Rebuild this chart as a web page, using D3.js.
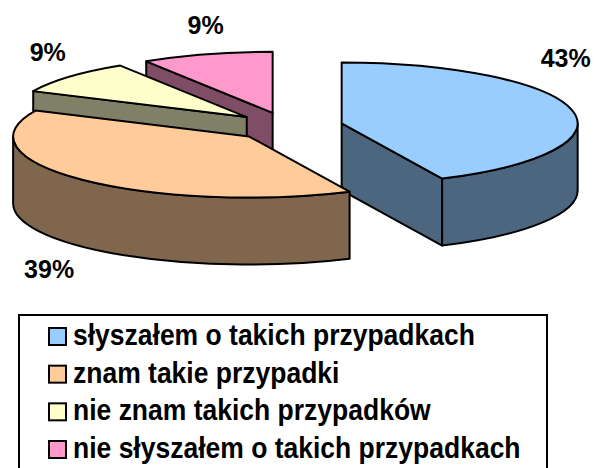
<!DOCTYPE html>
<html>
<head>
<meta charset="utf-8">
<script src="https://cdn.jsdelivr.net/npm/d3@7"></script>
<style>
  html, body { margin: 0; padding: 0; background: #ffffff; }
  svg { display: block; }
  text { font-family: "Liberation Sans", Arial, sans-serif; font-weight: bold; fill: #000; }
</style>
</head>
<body>
<svg id="chart" width="597" height="468"></svg>
<script>
// Answers and their shares (percent)
const categories = [
  "słyszałem o takich przypadkach",
  "znam takie przypadki",
  "nie znam takich przypadków",
  "nie słyszałem o takich przypadkach"
];
const values = [43, 39, 9, 9];
const valueLabels = ["43%", "39%", "9%", "9%"];
const colors = ["#99CCFF", "#FFCC99", "#FFFFCC", "#FF99CC"];

// Layout of the tilted, exploded pie
const W = 597, H = 468;
const cx = 288, cy = 126.5;      // pie centre (top face)
const rx = 236, ry = 61;         // ellipse radii of the top face
const depth = 67;                // thickness of the disc
const explode = 0.233;           // fraction of the radius each slice is pulled out
// label anchor offsets from each slice's own centre
const labelOffsets = [[224, -56], [-200, 141], [-199, -56], [-67, -79]];

const svg = d3.select("#chart");

const arcs = d3.pie().sort(null).value(d => d).startAngle(0).endAngle(2 * Math.PI)(values);

function pt(c, a) { return [c[0] + rx * Math.sin(a), c[1] - ry * Math.cos(a)]; }
function down(p) { return [p[0], p[1] + depth]; }
function sideColor(c) {
  const r = d3.rgb(c);
  return d3.rgb(r.r * 0.5, r.g * 0.5, r.b * 0.5).formatHex();
}

const slices = arcs.map((d, i) => {
  const mid = (d.startAngle + d.endAngle) / 2;
  const c = [cx + explode * rx * Math.sin(mid), cy - explode * ry * Math.cos(mid)];
  return { d, i, mid, c };
});

// paint from the back of the disc to the front
const order = slices.slice().sort((a, b) => Math.cos(b.mid) - Math.cos(a.mid));

const g = svg.append("g")
  .attr("stroke", "#000")
  .attr("stroke-width", 2)
  .attr("stroke-linejoin", "round");

function ellArc(p, a0, a1, sweep) {
  const large = Math.abs(a1 - a0) > Math.PI ? 1 : 0;
  return `A${rx},${ry} 0 ${large} ${sweep} ${p[0]},${p[1]}`;
}

order.forEach(s => {
  const { d, i, c } = s;
  const a0 = d.startAngle, a1 = d.endAngle;
  const top = colors[i], side = sideColor(colors[i]);
  const sg = g.append("g");

  // radial cut faces that turn towards the viewer
  const faces = [];
  if (Math.sin(a0) < -1e-6) faces.push(a0);
  if (Math.sin(a1) > 1e-6) faces.push(a1);
  faces.forEach(a => {
    const p = pt(c, a), pd = down(p), cd = down(c);
    sg.append("path")
      .attr("d", `M${c[0]},${c[1]}L${p[0]},${p[1]}L${pd[0]},${pd[1]}L${cd[0]},${cd[1]}Z`)
      .attr("fill", side);
  });

  // outer curved wall (front half only)
  const s0 = Math.max(a0, Math.PI / 2), s1 = Math.min(a1, 3 * Math.PI / 2);
  if (s0 < s1) {
    const p0 = pt(c, s0), p1 = pt(c, s1);
    const q0 = down(p0), q1 = down(p1);
    sg.append("path")
      .attr("d", `M${p0[0]},${p0[1]}` + ellArc(p1, s0, s1, 1) +
                 `L${q1[0]},${q1[1]}` + ellArc(q0, s0, s1, 0) + "Z")
      .attr("fill", side);
  }

  // top face
  const p0 = pt(c, a0), p1 = pt(c, a1);
  sg.append("path")
    .attr("d", `M${c[0]},${c[1]}L${p0[0]},${p0[1]}` + ellArc(p1, a0, a1, 1) + "Z")
    .attr("fill", top);
});

// value labels
svg.append("g").selectAll("text")
  .data(slices)
  .join("text")
  .attr("transform", s => `translate(${s.c[0] + labelOffsets[s.i][0]},${s.c[1] + labelOffsets[s.i][1]}) scale(1,1.06)`)
  .attr("text-anchor", "middle")
  .attr("font-size", 25)
  .text(s => valueLabels[s.i]);

// legend
const legend = svg.append("g");
legend.append("rect")
  .attr("x", 19).attr("y", 315)
  .attr("width", 528).attr("height", 180)
  .attr("fill", "#fff").attr("stroke", "#000").attr("stroke-width", 2);

const rowY = d3.scaleLinear().domain([0, 3]).range([345, 458]);
const rows = legend.selectAll("g.row")
  .data(categories)
  .join("g")
  .attr("class", "row")
  .attr("transform", (d, i) => `translate(0,${rowY(i)})`);

rows.append("rect")
  .attr("x", 49).attr("y", -17)
  .attr("width", 17).attr("height", 17)
  .attr("fill", (d, i) => colors[i])
  .attr("stroke", "#000").attr("stroke-width", 2);

rows.append("text")
  .attr("transform", "translate(73,0) scale(1,1.1)")
  .attr("font-size", 26.5)
  .text(d => d);
</script>
</body>
</html>
